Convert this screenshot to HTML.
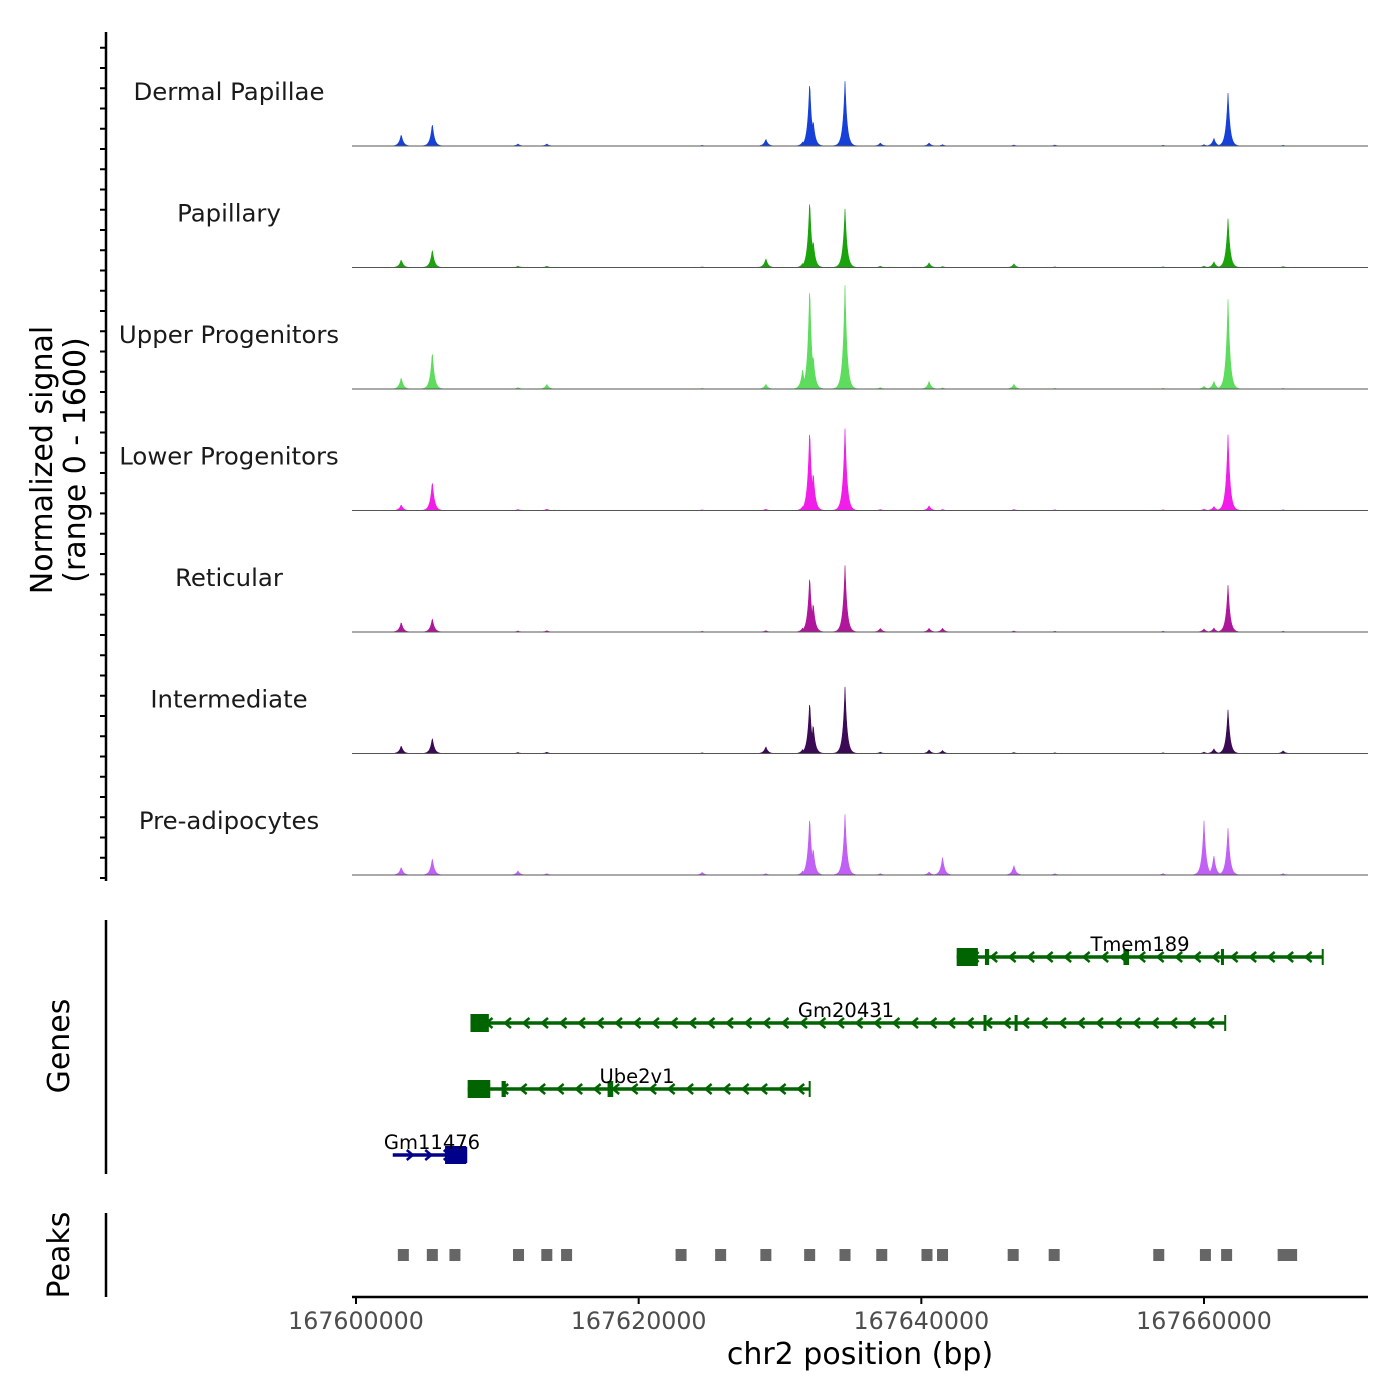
<!DOCTYPE html>
<html><head><meta charset="utf-8"><style>
html,body{margin:0;padding:0;background:#fff}
svg{display:block;font-family:"DejaVu Sans","Liberation Sans",sans-serif}
</style></head><body>
<svg id="chart" width="1400" height="1400" viewBox="0 0 1400 1400" xmlns="http://www.w3.org/2000/svg">
<rect width="1400" height="1400" fill="#fff"/>
<g id="tracks"></g>
<g id="genes"></g>
<g id="peaks"></g>
<g id="axes">
<line x1="106" y1="32" x2="106" y2="881" stroke="#000" stroke-width="2.5"/>
<line x1="106" y1="920" x2="106" y2="1174" stroke="#000" stroke-width="2.5"/>
<line x1="106" y1="1213" x2="106" y2="1297" stroke="#000" stroke-width="2.5"/>
<line x1="352" y1="1297" x2="1368" y2="1297" stroke="#000" stroke-width="2.5"/>
<text transform="translate(52,460) rotate(-90)" text-anchor="middle" font-size="30" fill="#000">Normalized signal</text>
<text transform="translate(85,460) rotate(-90)" text-anchor="middle" font-size="30" fill="#000">(range 0 - 1600)</text>
<text transform="translate(69,1046) rotate(-90)" text-anchor="middle" font-size="30" fill="#000">Genes</text>
<text transform="translate(69,1255) rotate(-90)" text-anchor="middle" font-size="30" fill="#000">Peaks</text>
<text x="860" y="1364" text-anchor="middle" font-size="30" fill="#000">chr2 position (bp)</text>
</g>
</svg>
<script>
const NS="http://www.w3.org/2000/svg";
const trackNames=["Dermal Papillae","Papillary","Upper Progenitors","Lower Progenitors","Reticular","Intermediate","Pre-adipocytes"];
const trackColors=["#1740d8","#1aa30b","#5ddc5d","#f01ee8","#b0169c","#3b0a55","#c060f5"];
const peakPositions=[167603200,167605400,167611460,167613500,167624500,167629000,167631600,167632100,167632350,167634600,167637100,167640550,167641500,167646550,167649450,167657100,167660000,167660700,167661700,167665600];
const valsDP=[170,330,30,30,10,100,60,950,380,950,45,45,20,15,15,10,20,115,780,10];
const valsPap=[115,260,20,20,10,130,60,1000,400,860,20,70,15,55,10,10,20,85,720,15];
const valsUP=[170,550,20,70,10,70,290,1520,500,1520,20,115,15,70,10,10,40,115,1320,10];
const valsLP=[85,430,15,20,10,20,60,1200,570,1200,15,70,15,15,10,10,20,60,1120,10];
const valsRet=[145,200,15,20,10,20,60,830,430,975,55,55,55,15,10,10,45,60,690,10];
const valsInt=[115,230,15,20,10,100,60,770,430,975,20,55,45,15,10,10,20,70,645,40];
const valsPre=[115,245,60,20,40,20,60,860,400,890,20,45,260,140,20,20,790,290,690,20];
const trackVals=[valsDP,valsPap,valsUP,valsLP,valsRet,valsInt,valsPre];
const xTicks=[167600000,167620000,167640000,167660000];
const xTickLabels=["167600000","167620000","167640000","167660000"];
const genes=[
 {name:"Tmem189",start:167642500,end:167668400,strand:-1,row:0,exons:[[167642500,167644000],[167644500,167644800],[167654300,167654700],[167661200,167661400]],color:"#006400"},
 {name:"Gm20431",start:167608100,end:167661500,strand:-1,row:1,exons:[[167608100,167609400],[167644400,167644600],[167646600,167646700]],color:"#006400"},
 {name:"Ube2v1",start:167607900,end:167632100,strand:-1,row:2,exons:[[167607900,167609500],[167610300,167610600],[167617800,167618200]],color:"#006400"},
 {name:"Gm11476",start:167602600,end:167607800,strand:1,row:3,exons:[[167606300,167607800]],color:"#00008b"}
];
const peakRegions=[167603350,167605400,167607000,167611500,167613500,167614900,167623000,167625800,167629000,167632100,167634600,167637200,167640400,167641500,167646500,167649400,167656800,167660100,167661600,167665600,167666200];

const X0=356,PXPERBP=(1204-356)/60000;
function xs(bp){return X0+(bp-167600000)*PXPERBP;}
const baselines=[146,267.5,389,510.5,632,753.5,875];
const VMAX=1600,HMAX=110;
function ys(v,i){return baselines[i]-v/VMAX*HMAX;}
const tg=document.getElementById('tracks');
const ax=document.getElementById('axes');
function mk(tag,attrs,parent){const e=document.createElementNS(NS,tag);for(const k in attrs)e.setAttribute(k,attrs[k]);parent.appendChild(e);return e;}

for(let i=0;i<7;i++){
 for(let k=0;k<6;k++){
  const y=baselines[i]-k*121.5/6+3;
  const t=mk('line',{x1:100,x2:106,y1:y,y2:y,stroke:'#000','stroke-width':2},ax);
  
  
 }
}
for(let i=0;i<7;i++){
 const g=mk('g',{},tg);
 
 
 const lab=mk('text',{x:229,y:baselines[i]-46,'text-anchor':'middle','font-size':24.4,fill:'#1a1a1a'},g);
 lab.textContent=trackNames[i];
 
 
 const vals=trackVals[i];
 let d='M352,'+baselines[i];
 for(let px=352;px<=1368;px+=0.5){
  let v=0;
  for(let j=0;j<peakPositions.length;j++){
   const dx=Math.abs(px-xs(peakPositions[j]));
   v=Math.max(v,vals[j]*Math.exp(-dx/2.1));
  }
  d+=' L'+px+','+ys(v,i).toFixed(2);
 }
 d+=' L1368,'+baselines[i]+' Z';
 const p=mk('path',{d:d,fill:trackColors[i],stroke:trackColors[i],'stroke-width':0.6},g);
 
 
 const bl=mk('line',{x1:352,x2:1368,y1:baselines[i],y2:baselines[i],stroke:'#555','stroke-width':1},g);
 
 
}
const gg=document.getElementById('genes');
const rowY=[957,1023,1089,1155];
const labelX={"Tmem189":1140,"Gm20431":846,"Ube2v1":637,"Gm11476":432};
genes.forEach(gn=>{
 const g=mk('g',{},gg);
 
 
 const y=rowY[gn.row],x1=xs(gn.start),x2=xs(gn.end);
 mk('line',{x1:x1,x2:x2,y1:y,y2:y,stroke:gn.color,'stroke-width':3.5},g);
 mk('line',{x1:x2,x2:x2,y1:y-8,y2:y+8,stroke:gn.color,'stroke-width':2},g);
 for(let ax2=x1+18;ax2<x2-6;ax2+=18.5){
  const d=gn.strand<0?`M${ax2+4},${y-5} L${ax2-2},${y} L${ax2+4},${y+5}`:`M${ax2-4},${y-5} L${ax2+2},${y} L${ax2-4},${y+5}`;
  mk('path',{d:d,fill:'none',stroke:gn.color,'stroke-width':2.5},g);
 }
 gn.exons.forEach(ex=>{
  const a=xs(ex[0]),b=xs(ex[1]);
  const w=Math.max(b-a,3),h=(b-a)>8?18:16;
  const r=mk('rect',{x:a,y:y-h/2,width:w,height:h,fill:gn.color},g);
  
  
 });
 const t=mk('text',{x:labelX[gn.name],y:y-6,'text-anchor':'middle','font-size':19.5,fill:'#000'},g);
 t.textContent=gn.name;
 
 
});
const pg=document.getElementById('peaks');
peakRegions.forEach(bp=>{
 const r=mk('rect',{x:xs(bp)-5.5,y:1249,width:11,height:12,fill:'#666'},pg);
 
 
});
xTicks.forEach((bp,i)=>{
 const x=xs(bp);
 const t=mk('line',{x1:x,x2:x,y1:1297,y2:1304,stroke:'#000','stroke-width':2},ax);
 
 
 const l=mk('text',{x:x,y:1329,'text-anchor':'middle','font-size':23.7,fill:'#4d4d4d'},ax);
 l.textContent=xTickLabels[i];
 
 
});
</script>
</body></html>
